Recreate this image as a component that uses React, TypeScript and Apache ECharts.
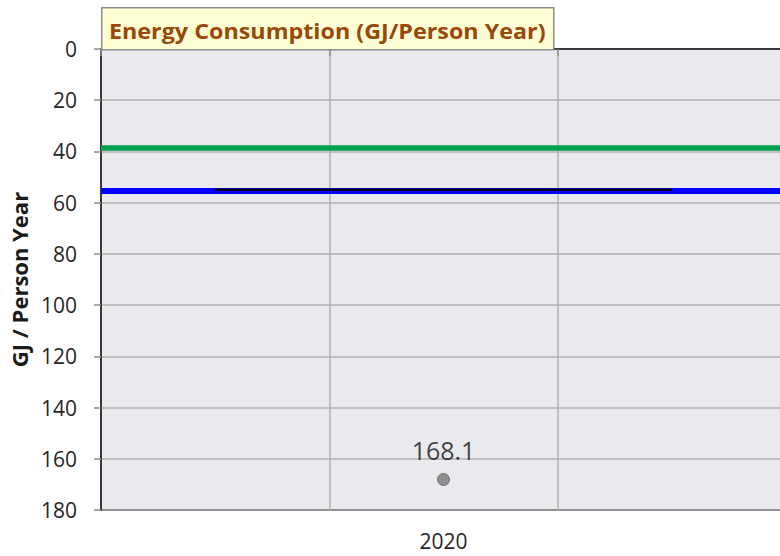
import React, { useEffect, useRef } from "react";
import * as echarts from "echarts";

const categories = ["", "2020", ""];
const pointValues: (number | null)[] = [null, 168.1, null];
const targetLineValues = [55.0, 55.0, 55.0];
const greenLevel = 38.65;
const blueLevel = 55.5;
const yMin = 0;
const yMax = 180;
const yInterval = 20;
const titleText = "Energy Consumption (GJ/Person Year)";
const yAxisName = "GJ / Person Year";

export default function App() {
  const ref = useRef<HTMLDivElement>(null);
  useEffect(() => {
    document.body.style.margin = "0";
    if (!ref.current) return;
    const chart = echarts.init(ref.current, null, { renderer: "svg" });
    const font = "Open Sans, Noto Sans, sans-serif";
    chart.setOption({
      animation: false,
      textStyle: { fontFamily: font },
      grid: {
        left: 101,
        right: 0,
        top: 49,
        bottom: 46,
        show: true,
        backgroundColor: "#e9eaed",
        borderColor: "#3a3a3a",
        borderWidth: 2,
      },
      graphic: [
        {
          type: "rect",
          left: 101,
          top: 7,
          shape: { width: 452, height: 42 },
          style: { fill: "#ffffd6", stroke: "#8c8c8c", lineWidth: 1.5 },
          z: 100,
        },
        {
          type: "text",
          x: 109,
          y: 30,
          scaleX: 1.11,
          style: {
            text: titleText,
            fill: "#984807",
            font: `bold 21px ${font}`,
            textVerticalAlign: "middle",
            verticalAlign: "middle",
          },
          z: 101,
        },
      ],
      xAxis: {
        type: "category",
        data: categories,
        boundaryGap: true,
        axisLine: { show: true, lineStyle: { color: "#3a3a3a", width: 2 } },
        axisTick: { show: true, length: 7, lineStyle: { color: "#8c8c8c", width: 1.5 } },
        axisLabel: { color: "#262626", fontSize: 21, margin: 20, fontFamily: font },
        splitLine: { show: true, lineStyle: { color: "#b0b0b0", width: 1.5 } },
      },
      yAxis: {
        type: "value",
        inverse: true,
        min: yMin,
        max: yMax,
        interval: yInterval,
        name: yAxisName,
        nameLocation: "middle",
        nameGap: 71,
        nameTextStyle: { color: "#1a1a1a", fontSize: 22, fontWeight: "bold", fontFamily: font },
        axisLine: { show: true, lineStyle: { color: "#3a3a3a", width: 2 } },
        axisTick: { show: true, length: 7, lineStyle: { color: "#8c8c8c", width: 1.5 } },
        axisLabel: { color: "#262626", fontSize: 21, margin: 24, fontFamily: font },
        splitLine: { show: true, lineStyle: { color: "#b0b0b0", width: 1.5 } },
      },
      series: [
        {
          type: "line",
          name: "levels",
          data: [],
          markLine: {
            symbol: "none",
            silent: true,
            z: 3,
            label: { show: false },
            data: [
              { yAxis: greenLevel, lineStyle: { color: "#00a04e", width: 5.5, type: "solid" } },
              { yAxis: blueLevel, lineStyle: { color: "#0000ff", width: 6, type: "solid" } },
            ],
          },
          z: 3,
        },
        {
          type: "line",
          name: "target",
          data: targetLineValues,
          showSymbol: false,
          symbol: "none",
          lineStyle: { color: "#00001e", width: 2.5 },
          z: 10,
        },
        {
          type: "scatter",
          name: "Energy",
          data: pointValues,
          symbolSize: 12,
          itemStyle: { color: "#777777", borderColor: "#5e5e5e", borderWidth: 1 },
          label: {
            show: true,
            position: "top",
            distance: 11,
            formatter: (p: any) => p.value.toFixed(1),
            color: "#111111",
            fontSize: 25,
            fontFamily: font,
          },
          z: 11,
        },
      ],
    });
    return () => chart.dispose();
  }, []);
  return (
    <div style={{ width: 780, height: 556, overflow: "hidden" }}>
      <div ref={ref} style={{ width: 786, height: 556 }} />
    </div>
  );
}
